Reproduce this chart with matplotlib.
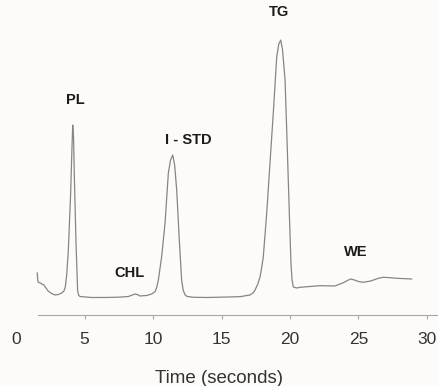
import matplotlib
matplotlib.use("Agg")
import matplotlib.pyplot as plt

# detector trace (time in s, signal in arbitrary units)
time_s = [1.55, 1.6, 1.75, 2.04, 2.34, 2.6, 2.85, 3.1, 3.34, 3.5, 3.6, 3.7,
          3.82, 3.99, 4.08, 4.14, 4.2, 4.26, 4.38, 4.50, 4.58, 4.67, 5.5, 6.5,
          7.5, 8.2, 8.5, 8.69, 8.9, 9.05, 9.54, 9.9, 10.15, 10.28, 10.39, 10.63,
          10.88, 11.12, 11.28, 11.44, 11.58, 11.73, 11.92, 12.09, 12.2, 12.34,
          12.5, 12.94, 14.0, 15.5, 16.35, 17.08, 17.3, 17.45, 17.65, 17.81,
          17.93, 18.05, 18.30, 18.54, 18.78, 19.03, 19.18, 19.32, 19.45, 19.64,
          19.80, 19.95, 20.07, 20.15, 20.24, 20.49, 20.73, 22.19, 23.28, 23.89,
          24.2, 24.43, 24.7, 25.0, 25.35, 25.9, 26.4, 26.81, 27.3, 27.79, 28.88]
signal = [42, 33, 32, 30, 24, 21.5, 20, 20.5, 22, 24, 28, 40,
          65, 122, 165, 190, 178, 138, 72, 24, 19.5, 18.5, 17.5, 17.5,
          17.8, 18.5, 20, 21, 20.2, 19, 19.5, 21, 23.3, 28, 35, 58,
          92, 142, 155, 160, 150, 125, 75, 35, 25, 20,
          18.5, 17.7, 17.5, 18, 18.3, 20, 22, 25, 31, 38,
          47, 58, 102, 152, 202, 258, 271, 275, 266, 235,
          168, 102, 52, 35, 28, 27, 27.7, 29.3, 29, 32.3,
          34.5, 36, 35, 33.5, 32.7, 34, 36.5, 37.7, 37.3, 36.7, 36]

peak_names = ["PL", "CHL", "I - STD", "TG", "WE"]
peak_x = [4.3, 8.3, 12.55, 19.2, 24.8]
peak_y = [208, 35, 168, 296, 56]

xticks = [0, 5, 10, 15, 20, 25, 30]

bg = "#fdfbf9"
fig = plt.figure(figsize=(4.39, 3.86), dpi=100, facecolor=bg)
ax = fig.add_axes([0, 0.184, 1, 0.764], facecolor=bg)

ax.plot(time_s, signal, color="#858585", lw=0.9)

for name, x, y in zip(peak_names, peak_x, peak_y):
    ax.text(x, y, name, ha="center", va="bottom", fontsize=10.5,
            fontweight="bold", family="Liberation Sans", color="#1a1a1a",
            clip_on=False)

ax.set_xlim(-1.168, 30.876)
ax.set_ylim(0, 295)
for s in ["left", "top", "right"]:
    ax.spines[s].set_visible(False)
ax.spines["bottom"].set_color("#a8a8a8")
ax.spines["bottom"].set_linewidth(0.8)
ax.spines["bottom"].set_bounds(1.6, 30.876)
ax.set_yticks([])
ax.set_xticks(xticks)
ax.set_xticklabels([str(v) for v in xticks], family="Liberation Sans",
                   fontsize=12.5, color="#333333")
ax.tick_params(axis="x", length=3, color="#a8a8a8", pad=9)
ax.xaxis.get_major_ticks()[0].tick1line.set_visible(False)
ax.set_xlabel("Time (seconds)", family="Liberation Sans", fontsize=13.5,
              color="#333333", labelpad=17)

fig.savefig("out.png", dpi=100, facecolor=bg)
